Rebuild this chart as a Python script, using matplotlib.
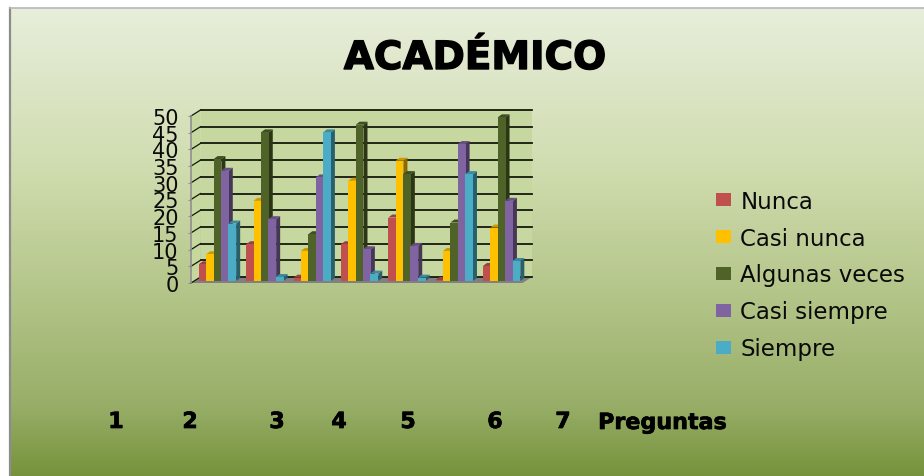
import numpy as np
import matplotlib
matplotlib.use("Agg")
import matplotlib.pyplot as plt
import matplotlib.patheffects as pe
from matplotlib.colors import LinearSegmentedColormap, to_rgb
from matplotlib.patches import Polygon, Patch, Rectangle

W, H = 924, 477
title = "ACADÉMICO"
axis_label = "Preguntas"
series = ["Nunca", "Casi nunca", "Algunas veces", "Casi siempre", "Siempre"]
nunca = [5, 11, 1, 11, 19, 0.3, 4.5]
casi_nunca = [8, 24, 9, 30, 36, 9, 16]
algunas = [36.5, 44.5, 14, 46.8, 32, 17.5, 49]
casi_siempre = [33, 18.5, 31, 9.5, 10.5, 41, 24]
siempre = [17.2, 1.2, 44.5, 2.2, 1, 32, 6]
values = [nunca, casi_nunca, algunas, casi_siempre, siempre]
colors = ["#C0504D", "#FFC000", "#4F6228", "#8064A2", "#4BACC6"]
category_labels = ["1", "2", "3", "4", "5", "6", "7"]
category_label_px = [116, 190, 277, 339, 408, 495, 563]
yticks = list(range(0, 51, 5))

fig = plt.figure(figsize=(W / 100, H / 100), dpi=100, facecolor="white")

# background
bg = fig.add_axes([0, 0, 1, 1])
bg.set_xlim(0, W); bg.set_ylim(H, 0); bg.axis("off")
cmap = LinearSegmentedColormap.from_list("bg", [(0, "#E7EEDB"), (0.35, "#CFDCAE"), (0.62, "#B3C488"),
                                                (0.85, "#98AE68"), (1, "#76933C")])
bg.imshow(np.linspace(0, 1, 256)[:, None], cmap=cmap, extent=(10, W, H, 9), aspect="auto", zorder=0)
bg.set_xlim(0, W); bg.set_ylim(H, 0)
bg.plot([10, 10], [H, 9], color="#8C8C8C", lw=1.6, zorder=2)
bg.plot([10, W], [9, 9], color="#B8B8B8", lw=1.2, zorder=2)

# plot axes: front plane of the 3-D box
x0, x1, y0, y50 = 191, 522.5, 284, 117
ax = fig.add_axes([x0 / W, 1 - y0 / H, (x1 - x0) / W, (y0 - y50) / H])
ax.set_xlim(0, 7); ax.set_ylim(0, 50)
ax.patch.set_alpha(0)
for s in ax.spines.values():
    s.set_visible(False)
px_x = 7 / (x1 - x0)
px_y = 50 / (y0 - y50)
wx, wy = 9.5 * px_x, 6 * px_y

# walls and floor
ax.add_patch(Polygon([(wx, wy), (7 + wx, wy), (7 + wx, 50 + wy), (wx, 50 + wy)], fc="#C6D79F", ec="none", clip_on=False, zorder=1))
ax.add_patch(Polygon([(0, 0), (wx, wy), (wx, 50 + wy), (0, 50)], fc="#C6D79F", ec="none", clip_on=False, zorder=1))
ax.add_patch(Polygon([(0, 0), (7, 0), (7 + wx, wy), (wx, wy)], fc="#808080", ec="none", clip_on=False, zorder=2))
for t in yticks:
    ax.plot([wx, 7 + wx], [t + wy, t + wy], color="#14180C", lw=1.3, clip_on=False, zorder=3)
    ax.plot([0, wx], [t, t + wy], color="#14180C", lw=0.9, clip_on=False, zorder=3)
ax.plot([0, 0], [0, 50], color="#909090", lw=1.2, clip_on=False, zorder=3)

# bars
start, pitch, width = 0.165, 0.156, 0.165
dx, dy = 4 * px_x, 3 * px_y
base = 0.6
def shade(c, f):
    return tuple(v * f for v in to_rgb(c))
z = 10
for g in range(7):
    for k, (vals, c) in enumerate(zip(values, colors)):
        l = g + start + k * pitch
        r = l + width
        b, t = base, base + vals[g]
        ax.add_patch(Polygon([(r, b), (r + dx, b + dy), (r + dx, t + dy), (r, t)], fc=shade(c, 0.55), ec="none", clip_on=False, zorder=z))
        ax.add_patch(Polygon([(l, t), (r, t), (r + dx, t + dy), (l + dx, t + dy)], fc=shade(c, 0.8), ec="none", clip_on=False, zorder=z))
        ax.add_patch(Rectangle((l, b), width, vals[g], fc=c, ec="none", clip_on=False, zorder=z))
        z += 1

ax.set_xticks([])
ax.set_yticks(yticks)
ax.tick_params(axis="y", length=2, width=0.8, color="#909090", labelsize=15, pad=7, labelcolor="#0A0A0A")

# texts
def put(xp, yp, s, stroke=0.0, **kw):
    tx = fig.text(xp / W, 1 - yp / H, s, **kw)
    if stroke:
        tx.set_path_effects([pe.withStroke(linewidth=stroke, foreground="black")])
put(475, 59, title, stroke=1.0, fontsize=28, fontweight="bold", ha="center", va="center", color="black")
put(662.5, 424, axis_label, stroke=0.5, fontsize=16, fontweight="bold", ha="center", va="center", color="black")
for xp, s in zip(category_label_px, category_labels):
    put(xp, 423, s, stroke=0.5, fontsize=16, fontweight="bold", ha="center", va="center", color="black")

handles = [Patch(fc=c, ec="none", label=s) for c, s in zip(colors, series)]
fig.legend(handles=handles, loc="center left", bbox_to_anchor=(716 / W, 1 - 276 / H), frameon=False,
           fontsize=16.5, handlelength=0.66, handleheight=0.52, handletextpad=0.4, labelspacing=0.61,
           borderpad=0, borderaxespad=0, labelcolor="#0A0A0A")

fig.savefig("out.png", dpi=100, facecolor="white")
